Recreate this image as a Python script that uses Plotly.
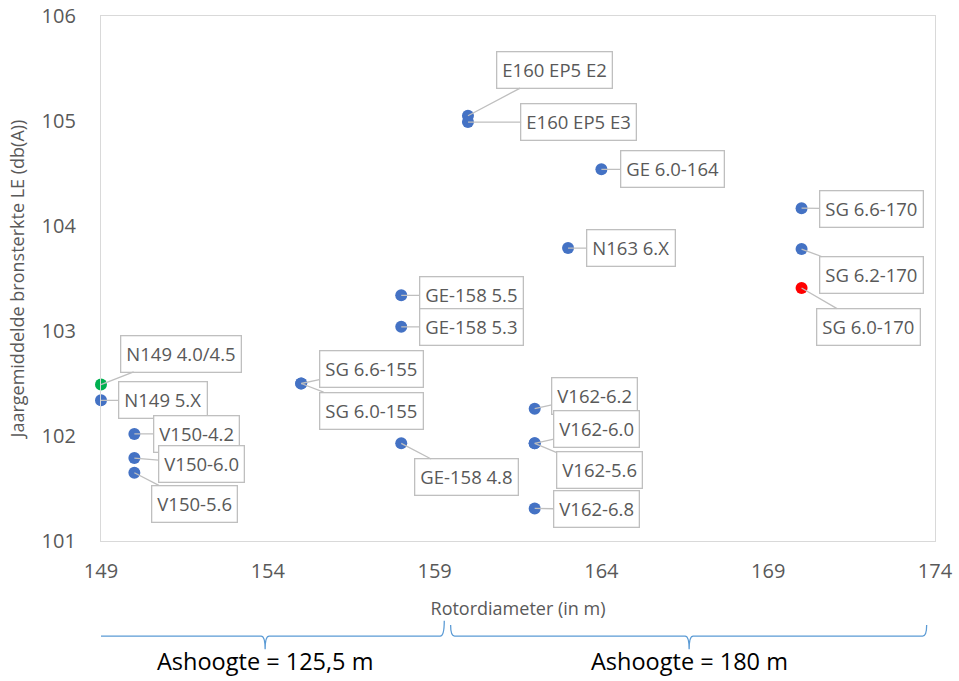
import plotly.graph_objects as go

# ---- data ----
models = ["N149 4.0/4.5", "N149 5.X", "V150-4.2", "V150-6.0", "V150-5.6",
          "SG 6.6-155", "SG 6.0-155", "GE-158 5.5", "GE-158 5.3", "GE-158 4.8",
          "E160 EP5 E2", "E160 EP5 E3", "GE 6.0-164", "N163 6.X",
          "SG 6.6-170", "SG 6.2-170", "SG 6.0-170",
          "V162-6.2", "V162-6.0", "V162-5.6", "V162-6.8"]
rotor = [149, 149, 150, 150, 150,
         155, 155, 158, 158, 158,
         160, 160, 164, 163,
         170, 170, 170,
         162, 162, 162, 162]
noise = [102.49, 102.34, 102.02, 101.79, 101.65,
         102.50, 102.50, 103.34, 103.04, 101.93,
         105.05, 104.99, 104.54, 103.79,
         104.17, 103.78, 103.41,
         102.26, 101.93, 101.93, 101.31]
highlight = ["green", "", "", "", "",
             "", "", "", "", "",
             "", "", "", "",
             "", "", "red",
             "", "", "", ""]
x_ticks = [149, 154, 159, 164, 169, 174]
y_ticks = [101, 102, 103, 104, 105, 106]
groups = ["Ashoogte = 125,5 m", "Ashoogte = 180 m"]

# ---- label offsets (pixels) ----
label_offsets = [(80, -31), (62, 0), (62, 0), (67, 6), (60, 31),
                 (70, -15), (70, 27), (70, 0), (70, 0), (65, 34),
                 (87, -46), (111, 0), (71, 0), (63, 0),
                 (70, 1), (70, 26), (67, 39),
                 (60, -13), (62, -14), (65, 27), (62, 1)]

color_map = {"": "#4472C4", "green": "#00B050", "red": "#FF0000"}
marker_colors = [color_map[h] for h in highlight]

FONT = "Open Sans"
GREY = "#595959"

fig = go.Figure()
fig.add_trace(go.Scatter(
    x=rotor, y=noise, mode="markers",
    marker=dict(size=12, color=marker_colors),
    cliponaxis=False, hoverinfo="text", text=models,
))

for m, xv, yv, (ax, ay) in zip(models, rotor, noise, label_offsets):
    fig.add_annotation(
        x=xv, y=yv, xref="x", yref="y", text=m,
        showarrow=True, ax=ax, ay=ay, arrowhead=0, arrowwidth=1.3,
        arrowcolor="#BFBFBF", standoff=0, startstandoff=0,
        bgcolor="white", bordercolor="#BFBFBF", borderwidth=1.3, borderpad=5,
        font=dict(family=FONT, size=18.5, color=GREY),
    )

# group braces (x in data units, y in paper units)
brace_specs = [(148.55, 159.29, 153.92, -0.152), (159.48, 173.75, 166.63, -0.160)]
y_line, y_tip = -0.181, -0.206
for (x0, x1, xm, ytop), label in zip(brace_specs, groups):
    d = 0.12
    path = (f"M {x0},{ytop} Q {x0},{y_line} {x0+d},{y_line} "
            f"L {xm-d},{y_line} Q {xm},{y_line} {xm},{y_tip} "
            f"Q {xm},{y_line} {xm+d},{y_line} "
            f"L {x1-d},{y_line} Q {x1},{y_line} {x1},{ytop}")
    fig.add_shape(type="path", path=path, xref="x", yref="paper",
                  line=dict(color="#5B9BD5", width=1.3))
    fig.add_annotation(x=xm, y=-0.229, xref="x", yref="paper", text=label,
                       showarrow=False, yanchor="middle",
                       font=dict(family=FONT, size=23.5, color="black"))

fig.update_layout(
    width=959, height=681,
    margin=dict(l=101, r=24, t=16, b=140, autoexpand=False),
    paper_bgcolor="white", plot_bgcolor="white",
    showlegend=False,
    font=dict(family=FONT, color=GREY),
)
fig.update_xaxes(
    range=[149, 174], tickvals=x_ticks, ticktext=[str(v) for v in x_ticks],
    showgrid=False, zeroline=False, showline=True, mirror=True,
    linecolor="#D9D9D9", linewidth=1.3, ticks="", automargin=False,
    tickfont=dict(family=FONT, size=20, color=GREY),
    ticklabelstandoff=12,
    title=dict(text="Rotordiameter (in m)", font=dict(family=FONT, size=18, color=GREY), standoff=19),
)
fig.update_yaxes(
    range=[101, 106], tickvals=y_ticks, ticktext=[str(v) for v in y_ticks],
    showgrid=False, zeroline=False, showline=True, mirror=True,
    linecolor="#D9D9D9", linewidth=1.3, ticks="", automargin=False,
    tickfont=dict(family=FONT, size=20, color=GREY),
    ticklabelstandoff=20,
    title=dict(text="Jaargemiddelde bronsterkte LE (db(A))", font=dict(family=FONT, size=18, color=GREY), standoff=12),
)

fig.write_html("out.html")
